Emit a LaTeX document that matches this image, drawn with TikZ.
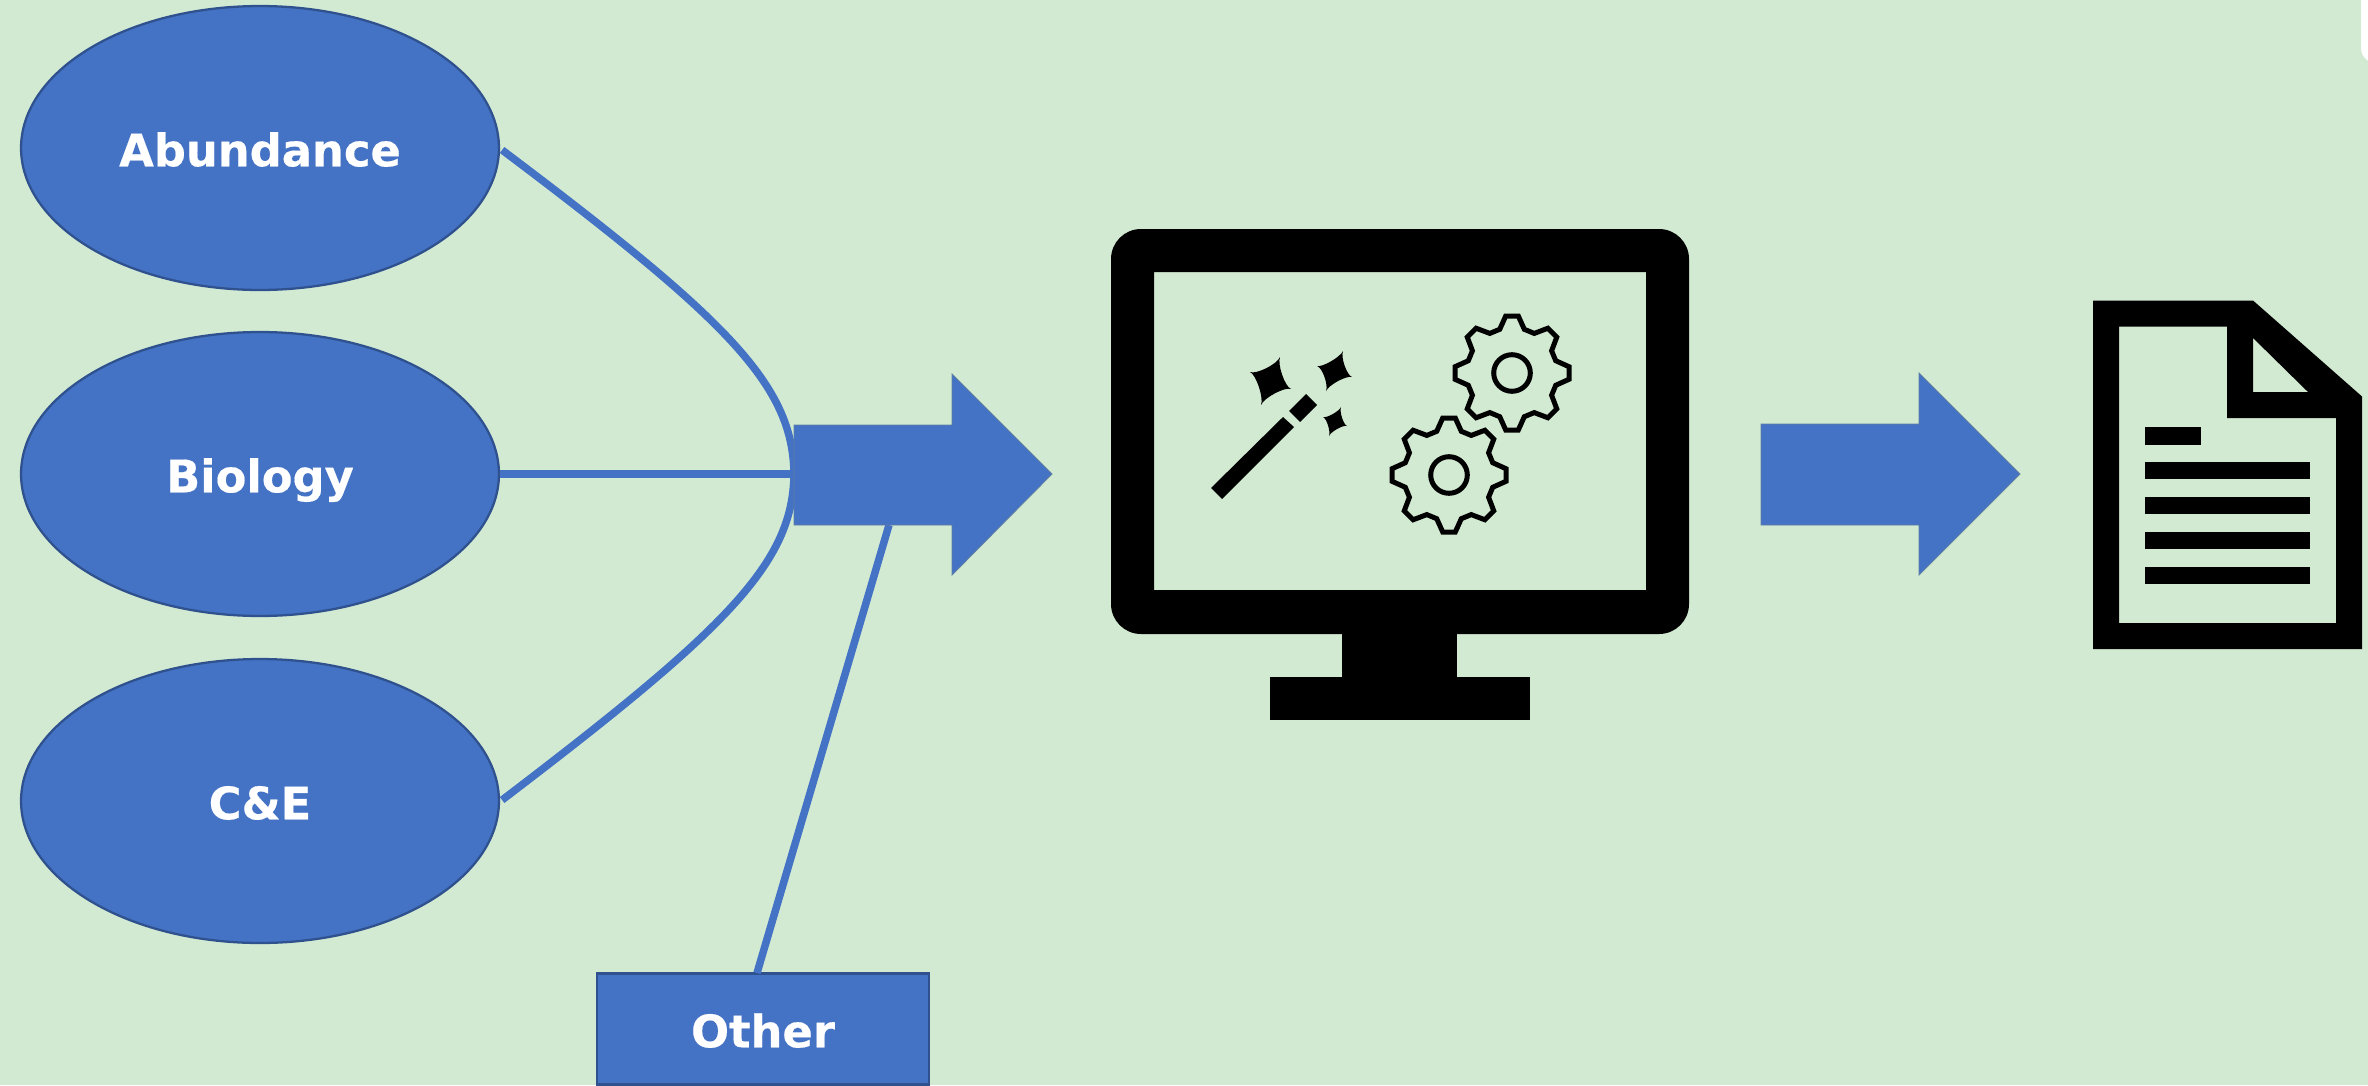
\documentclass[tikz,border=0pt]{standalone}
\usepackage{fontspec}
\setmainfont{DejaVu Sans}[BoldFeatures={FakeBold=0.4}]
\usetikzlibrary{shapes.geometric,calc}
\definecolor{bgc}{HTML}{D3EAD2}
\definecolor{blu}{HTML}{4472C4}
\definecolor{edg}{HTML}{2F528F}
\tikzset{
  x=0.02cm,y=-0.02cm,
  lbl/.style={text=white,font=\fontsize{25.5}{30}\selectfont\bfseries,text height=20.8pt,text depth=0pt,inner sep=0pt},
  oval/.style={lbl,ellipse,fill=blu,draw=edg,line width=1.3pt,minimum width=9.56cm,minimum height=5.68cm},
  box/.style={lbl,rectangle,fill=blu,draw=edg,line width=1.4pt,minimum width=6.64cm,minimum height=2.22cm},
  link/.style={draw=blu,line width=7.5*0.02cm},
  bigarrow/.style={fill=blu,draw=edg!70!bgc,line width=0.5pt},
  gearline/.style={draw=black,line width=5*0.02cm,line join=miter},
  ink/.style={fill=black},
}
\newcommand{\geardraw}[1]{%
  \draw[gearline,shift={(#1)}] (-15.7:45.4)
    foreach \a in {0,45,...,315}{ -- (\a-15.7:45.4) -- (\a-6.3:57.35) -- (\a+6.3:57.35) -- (\a+15.7:45.4)} -- cycle;
  \draw[gearline,shift={(#1)}] (0,0) circle[radius=18.3];
}
\newcommand{\sparkle}[4]{% four tips in order
  \coordinate (sc) at ($(#1)!.5!(#3)$);
  \fill[ink] (#1)
    .. controls ($(#1)!.3!(sc)$) and ($(#2)!.3!(sc)$) .. (#2)
    .. controls ($(#2)!.3!(sc)$) and ($(#3)!.3!(sc)$) .. (#3)
    .. controls ($(#3)!.3!(sc)$) and ($(#4)!.3!(sc)$) .. (#4)
    .. controls ($(#4)!.3!(sc)$) and ($(#1)!.3!(sc)$) .. cycle;
}
\begin{document}
\begin{tikzpicture}
\useasboundingbox (0,0) rectangle (2368,1085);
\fill[bgc] (0,0) rectangle (2368,1085);
\fill[white,rounded corners=0.3cm] (2361,-20) -- (2361,63) -- (2395,63) -- (2395,-20) -- cycle;

\node[oval] (abd) at (260,148) {Abundance};
\node[oval] (bio) at (260,474) {Biology};
\node[oval] (cne) at (260,801) {C\&E};
\node[box] (oth) at (763,1029) {Other};

\coordinate (hub) at (794,474);
\coordinate (arrowfoot) at (889,525);
\coordinate (othertop) at (757,973);
\draw[link] ($(abd.east)+(2,2)$) .. controls (728,320) and (793,385) .. (hub);
\draw[link] (bio.east) -- (hub);
\draw[link] ($(cne.east)+(2,-1)$) .. controls (728,628) and (793,563) .. (hub);
\draw[link] (othertop) -- (arrowfoot);

\draw[bigarrow] (794,425) -- (952,425) -- (952,374) -- (1052,474) -- (952,575) -- (952,525) -- (794,525) -- cycle;
\draw[bigarrow] (1761,424) -- (1919,424) -- (1919,373) -- (2020,474) -- (1919,575) -- (1919,525) -- (1761,525) -- cycle;

% monitor
\fill[ink,even odd rule] [rounded corners=0.6cm] (1111,229) rectangle (1689,634) [sharp corners] (1154,272) rectangle (1646,590);
\fill[ink] (1342,630) rectangle (1457,677);
\fill[ink] (1270,677) rectangle (1530,720);

% wand
\fill[ink] (1211,488) -- (1222,499) -- (1294,427) -- (1283,417) -- cycle;
\fill[ink] (1289,411) -- (1300,422) -- (1317,405) -- (1306,394) -- cycle;
\sparkle{1280,357}{1291,389}{1261,405}{1250,372}
\sparkle{1343,351}{1352,377}{1326,391}{1317,366}
\sparkle{1341,407}{1347,426}{1329,436}{1323,417}

% gears
\geardraw{1512,373}
\geardraw{1449,475}

% document
\fill[ink,even odd rule] (2093,300.5) -- (2253,300.5) -- (2362,396.5) -- (2362,649) -- (2093,649) -- cycle
  (2119,326.6) -- (2227,326.6) -- (2227,418) -- (2336,418) -- (2336,623) -- (2119,623) -- cycle
  (2253,338) -- (2308,392) -- (2253,392) -- cycle;
\fill[ink] (2145,427) rectangle (2201,444.5);
\fill[ink] (2145,462) rectangle (2310,479);
\fill[ink] (2145,497) rectangle (2310,514);
\fill[ink] (2145,531.6) rectangle (2310,549);
\fill[ink] (2145,566.5) rectangle (2310,584);
\end{tikzpicture}
\end{document}
